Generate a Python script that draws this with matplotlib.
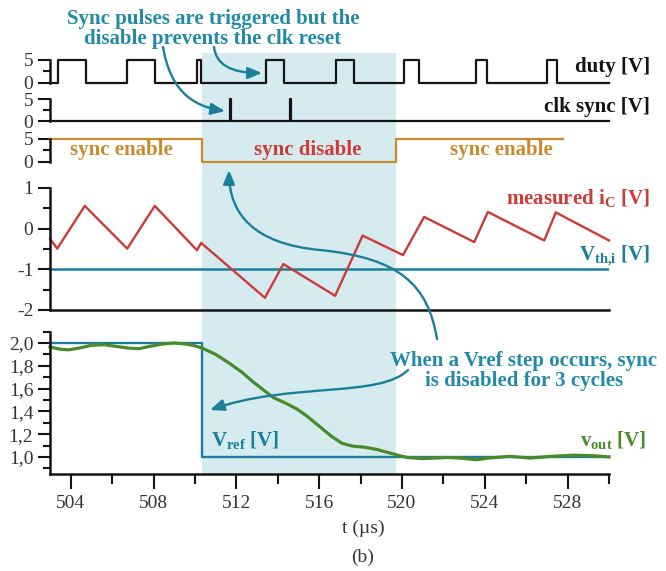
import matplotlib.pyplot as plt
from matplotlib.patches import FancyArrowPatch
from matplotlib.path import Path
from matplotlib.transforms import Affine2D

W, H = 666, 571

# time window (us)
t_min, t_max = 503, 530
shade_start, shade_end = 510.35, 519.7

# duty signal: edge times and level after each edge
duty_t = [503, 503.4, 504.76, 506.73, 508.05, 510.1, 510.3, 513.45, 514.3,
          516.8, 517.7, 520.1, 520.8, 523.6, 524.1, 527.0, 527.5, 530]
duty_v = [0, 5, 0, 5, 0, 5, 0, 5, 0, 5, 0, 5, 0, 5, 0, 5, 0, 0]

# clk sync pulses
clk_t = [503, 511.7, 511.76, 514.6, 514.66, 530]
clk_v = [0, 5, 0, 5, 0, 0]

# sync enable signal
sync_t = [503, 510.35, 519.7, 527.8]
sync_v = [5, 0, 5, 5]

# measured iC (corner points)
ic_t = [503, 503.35, 504.68, 506.73, 508.06, 510.1, 510.3, 513.38, 514.27,
        516.77, 518.1, 520.05, 521.07, 523.49, 524.15, 526.87, 527.43, 530]
ic_v = [-0.25, -0.49, 0.56, -0.49, 0.56, -0.53, -0.35, -1.70, -0.87,
        -1.65, -0.17, -0.65, 0.29, -0.33, 0.41, -0.29, 0.40, -0.29]
vth = -1.0

# Vref step and vout response
vref_t = [503, 510.35, 530]
vref_v = [2.0, 1.0, 1.0]
vout_t = [503, 503.5, 503.9, 504.4, 505.0, 505.6, 506.2, 506.8, 507.3, 507.8,
          508.4, 509.0, 509.6, 510.0, 510.35, 511.0, 511.6, 512.26, 512.8, 513.29,
          513.8, 514.4, 514.93, 515.4, 516.0, 516.6, 517.1, 517.6, 518.2, 518.8,
          519.3, 519.8, 520.25, 521.0, 521.6, 522.2, 522.8, 523.6, 524.2, 525.2,
          526.2, 527.2, 528.3, 529.3, 530]
vout_v = [1.965, 1.945, 1.94, 1.955, 1.98, 1.985, 1.97, 1.955, 1.95, 1.97,
          1.99, 2.0, 1.99, 1.975, 1.955, 1.90, 1.83, 1.745, 1.66, 1.59,
          1.52, 1.47, 1.42, 1.36, 1.27, 1.18, 1.12, 1.095, 1.085, 1.065,
          1.04, 1.015, 0.995, 0.985, 0.99, 0.995, 0.99, 0.975, 0.99, 1.005,
          0.99, 1.005, 1.015, 1.01, 1.0]

x_ticks = [504, 508, 512, 516, 520, 524, 528]
v_ticks = [1.0, 1.2, 1.4, 1.6, 1.8, 2.0]
v_tick_labels = ['1,0', '1,2', '1,4', '1,6', '1,8', '2,0']
ic_ticks = [-2, -1, 0, 1]

BLACK = '#141414'
ORANGE = '#c98a2e'
RED = '#cc3b36'
GREEN = '#4b8a2a'
TEAL = '#1b7f9a'
TEXT_TEAL = '#2289a7'
SHADE = '#d6ebef'

plt.rcParams['font.family'] = 'Liberation Serif'
plt.rcParams['mathtext.fontset'] = 'custom'
plt.rcParams['mathtext.rm'] = 'Liberation Serif'
plt.rcParams['mathtext.bf'] = 'Liberation Serif:bold'
plt.rcParams['mathtext.default'] = 'bf'
plt.rcParams['axes.unicode_minus'] = False

fig = plt.figure(figsize=(W / 100, H / 100), dpi=100)


def rect(top, bottom, left=50, right=609):
    return [left / W, 1 - bottom / H, (right - left) / W, (bottom - top) / H]


def ftext(x, y, s, **kw):
    fig.text(x / W, 1 - y / H, s, **kw)


def style_axis(ax, bottom=False):
    ax.set_xlim(t_min, t_max)
    ax.patch.set_alpha(0)
    for s in ['top', 'right']:
        ax.spines[s].set_visible(False)
    ax.spines['bottom'].set_visible(bottom)
    for s in ['left', 'bottom']:
        ax.spines[s].set_linewidth(1.8)
        ax.spines[s].set_color(BLACK)
    ax.tick_params(which='major', direction='out', length=9, width=1.5,
                   labelsize=14, colors=BLACK, labelcolor='#333333', pad=3)
    ax.tick_params(which='minor', direction='out', length=5, width=1.5, colors=BLACK)
    if not bottom:
        ax.tick_params(axis='x', which='both', bottom=False, labelbottom=False)


# shaded sync-disable window behind all panels
bg = fig.add_axes(rect(53, 474))
bg.set_xlim(t_min, t_max)
bg.axvspan(shade_start, shade_end, color=SHADE, lw=0)
bg.axis('off')

# logic panels
for top, bottom, t, v, col in [(55.4, 87.6, duty_t, duty_v, BLACK),
                               (94.6, 125.4, clk_t, clk_v, BLACK),
                               (134.4, 166.6, sync_t, sync_v, ORANGE)]:
    ax = fig.add_axes(rect(top, bottom))
    style_axis(ax)
    ax.set_ylim(-1, 6)
    ax.spines['left'].set_bounds(0, 5)
    ax.set_yticks([0, 5])
    ax.set_yticks([2.5], minor=True)
    ax.step(t, v, where='post', color=col, lw=1.6, clip_on=False)

# measured iC panel
ax_ic = fig.add_axes(rect(188, 310))
style_axis(ax_ic, bottom=True)
ax_ic.tick_params(axis='x', which='both', bottom=False, labelbottom=False)
ax_ic.set_ylim(-2, 1)
ax_ic.set_yticks(ic_ticks)
ax_ic.set_yticks([-1.5, -0.5, 0.5], minor=True)
ax_ic.axhline(vth, color=TEAL, lw=1.8)
ax_ic.plot(ic_t, ic_v, color=RED, lw=1.7, clip_on=False)

# vout / vref panel
ax_v = fig.add_axes(rect(331.6, 474))
style_axis(ax_v, bottom=True)
ax_v.set_ylim(0.85, 2.1)
ax_v.set_yticks(v_ticks, v_tick_labels)
ax_v.set_yticks([0.9, 1.1, 1.3, 1.5, 1.7, 1.9, 2.1], minor=True)
ax_v.set_xticks(x_ticks)
ax_v.set_xticks([506, 510, 514, 518, 522, 526, 530], minor=True)
ax_v.tick_params(axis='x', which='major', length=11, pad=4)
ax_v.tick_params(axis='x', which='minor', length=7)
ax_v.step(vref_t, vref_v, where='post', color=TEAL, lw=1.7, clip_on=False)
ax_v.plot(vout_t, vout_v, color=GREEN, lw=2.3, clip_on=False)

# labels
bold = dict(fontsize=15, fontweight='bold', va='center')
ftext(650, 67, 'duty [V]', color=BLACK, ha='right', **bold)
ftext(650, 107, 'clk sync [V]', color=BLACK, ha='right', **bold)
ftext(121, 150, 'sync enable', color=ORANGE, ha='center', **bold)
ftext(308, 150, 'sync disable', color=RED, ha='center', **bold)
ftext(501, 150, 'sync enable', color=ORANGE, ha='center', **bold)
ftext(650, 198, r'measured i$_C$ [V]', color=RED, ha='right', **bold)
ftext(650, 256, r'V$_{th{,}i}$ [V]', color=TEAL, ha='right', **bold)
ftext(211, 440, r'V$_{ref}$ [V]', color=TEAL, ha='left', **bold)
ftext(646, 440, r'v$_{out}$ [V]', color=GREEN, ha='right', **bold)

ftext(213, 29, 'Sync pulses are triggered but the\ndisable prevents the clk reset',
      color=TEXT_TEAL, ha='center', linespacing=1.0, **bold)
ftext(524, 371, 'When a Vref step occurs, sync\nis disabled for 3 cycles',
      color=TEXT_TEAL, ha='center', linespacing=1.0, **bold)

ftext(363, 528, 't (µs)', fontsize=14, ha='center', va='center', color='#333333')
ftext(363, 557, '(b)', fontsize=14, ha='center', va='center', color='#333333')

# curved annotation arrows, drawn in pixel coordinates
pix = Affine2D().scale(1 / W, -1 / H).translate(0, 1) + fig.transFigure


def curved_arrow(verts):
    codes = [Path.MOVETO] + [Path.CURVE4] * (len(verts) - 1)
    arrow = FancyArrowPatch(path=Path(verts, codes),
                            arrowstyle='-|>,head_length=0.6,head_width=0.25',
                            mutation_scale=14, color=TEAL, lw=1.7, transform=pix)
    fig.add_artist(arrow)


curved_arrow([(163, 47), (170, 88), (190, 106), (225, 111)])
curved_arrow([(214, 47), (216, 64), (230, 73), (262, 73)])
curved_arrow([(437, 339), (428, 285), (400, 258), (320, 250),
              (255, 244), (229, 215), (229, 170)])
curved_arrow([(408, 370), (380, 398), (290, 382), (210, 410)])

fig.savefig('out.png', dpi=100)
